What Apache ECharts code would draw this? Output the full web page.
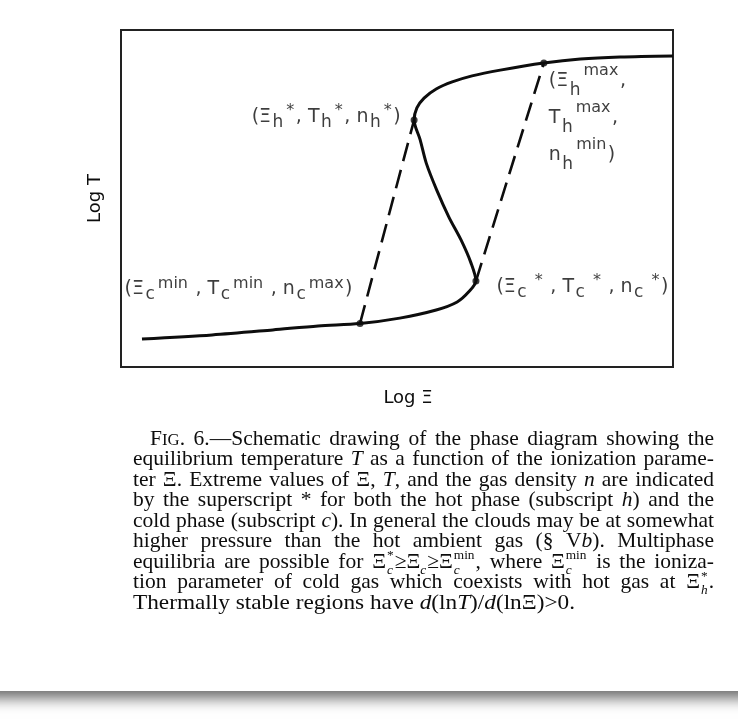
<!DOCTYPE html>
<html><head><meta charset="utf-8">
<script src="https://cdn.jsdelivr.net/npm/echarts@6/dist/echarts.min.js"></script>
<style>html,body{margin:0;padding:0;background:#fff}#c{width:738px;height:723px}</style>
</head><body><div id="c"></div>
<script>
// ---- data (schematic units, both axes 0..100) ----
const curveX = [3.8, 16.5, 27.5, 35.7, 43.3, 50.5, 57.1, 60.9, 63.0, 64.3, 63.4, 61.6, 59.4, 57.2, 55.3, 54.2, 53.1, 53.6, 54.9, 57.1, 60.0, 63.6, 68.7, 76.6, 83.2, 90.4, 100];
const curveY = [8.3, 9.5, 11.0, 12.2, 12.9, 14.5, 16.9, 19.3, 22.3, 25.5, 30.9, 37.7, 44.5, 52.5, 60.5, 67.4, 73.3, 76.9, 79.8, 82.5, 84.6, 86.4, 88.1, 90.2, 91.4, 92.0, 92.3];
const pointX = [43.3, 64.3, 53.1, 76.6];
const pointY = [12.9, 25.5, 73.3, 90.2];
const tieLine1 = [0, 2];
const tieLine2 = [1, 3];
const pointLabels = [
  '{m|(Ξ}{b|c}{p|min}{m| , T}{b|c}{p|min}{m| , n}{b|c}{p|max}{m|)}',
  '{m|(Ξ}{b|c}{p| *}{m| , T}{b|c}{p| *}{m| , n}{b|c}{p| *}{m|)}',
  '{m|(Ξ}{b|h}{p|*}{m|, T}{b|h}{p|*}{m|, n}{b|h}{p|*}{m|)}',
  '{M|(Ξ}{B|h}{P|max}{M|,}\n{M|T}{B|h}{P|max}{M|,}\n{M|n}{B|h}{P|min}{M|)}'
];
const xName = 'Log Ξ';
const yName = 'Log T';
const captionLines = [
  'F[sc:IG]. 6.—Schematic drawing of the phase diagram showing the',
  'equilibrium temperature [i:T] as a function of the ionization parame-',
  'ter Ξ. Extreme values of Ξ, [i:T], and the gas density [i:n] are indicated',
  'by the superscript * for both the hot phase (subscript [i:h]) and the',
  'cold phase (subscript [i:c]). In general the clouds may be at somewhat',
  'higher pressure than the hot ambient gas (§ V[i:b]). Multiphase',
  'equilibria are possible for Ξ[st:*|c]≥Ξ[sub:c]≥Ξ[st:min|c], where Ξ[st:min|c] is the ioniza-',
  'tion parameter of cold gas which coexists with hot gas at Ξ[st:*|h].',
  'Thermally stable regions have [i:d](ln[i:T])/[i:d](lnΞ)>0.'
];

// ---- rendering ----
const INK = '#0d0d0d';
const LF = '"DejaVu Sans", sans-serif';
const CF = '"Liberation Serif", "Times New Roman", serif';
const capSize = 21.5;
const capLeft = 133, capRight = 714, capIndent = 150, capBase0 = 446, capLead = 20.5;
const lastLineRight = 575;

const ctx = document.createElement('canvas').getContext('2d');
function fontStr(kind) {
  const s = capSize;
  switch (kind) {
    case 'i': return {font: `italic ${s}px ${CF}`, size: s, dy: 0};
    case 'sc': return {font: `${(s*0.78).toFixed(2)}px ${CF}`, size: s*0.78, dy: 0};
    case 'sub': return {font: `italic ${(s*0.62).toFixed(2)}px ${CF}`, size: s*0.62, dy: s*0.26};
    case 'sup': return {font: `${(s*0.62).toFixed(2)}px ${CF}`, size: s*0.62, dy: -s*0.40};
    default: return {font: `${s}px ${CF}`, size: s, dy: 0};
  }
}
function measure(text, font) { ctx.font = font; return ctx.measureText(text); }
function midOffset(font, size) {
  ctx.font = font; ctx.textBaseline = 'alphabetic';
  const m = ctx.measureText('Hx');
  if (m.fontBoundingBoxAscent !== undefined) return (m.fontBoundingBoxAscent - m.fontBoundingBoxDescent) / 2;
  return size * 0.34;
}
function parseWord(w) {
  const segs = [];
  const re = /\[(\w+):([^\]]*)\]|([^\[]+)/g;
  let m;
  while ((m = re.exec(w))) {
    if (m[3] !== undefined) segs.push({kind: 'r', text: m[3]});
    else if (m[1] === 'st') { const p = m[2].split('|'); segs.push({kind: 'st', sup: p[0], sub: p[1]}); }
    else segs.push({kind: m[1], text: m[2]});
  }
  return segs;
}
function layoutWord(w) {
  const segs = parseWord(w);
  let x = 0; const items = [];
  segs.forEach(sg => {
    if (sg.kind === 'st') {
      const fp = fontStr('sup'), fb = fontStr('sub');
      const wp = measure(sg.sup, fp.font).width, wb = measure(sg.sub, fb.font).width;
      items.push({text: sg.sup, f: fp, x: x + 1});
      items.push({text: sg.sub, f: fb, x: x + 1});
      x += Math.max(wp, wb) + 2;
    } else {
      const f = fontStr(sg.kind);
      items.push({text: sg.text, f, x});
      x += measure(sg.text, f.font).width + (sg.kind === 'sub' ? 1 : 0);
    }
  });
  return {items, width: x};
}
const captionGraphics = [];
captionLines.forEach((line, li) => {
  const words = line.split(' ').map(layoutWord);
  const isLast = li === captionLines.length - 1;
  const left = li === 0 ? capIndent : capLeft;
  const total = words.reduce((a, w) => a + w.width, 0);
  const spaceW = measure(' ', fontStr('r').font).width;
  let gap, sx = 1;
  if (isLast) {
    gap = spaceW;
    const natural = total + spaceW * (words.length - 1);
    sx = (lastLineRight - left) / natural;
  } else {
    gap = words.length > 1 ? (capRight - left - total) / (words.length - 1) : 0;
  }
  const base = capBase0 + li * capLead;
  let x = 0;
  words.forEach(w => {
    w.items.forEach(it => {
      const off = midOffset(it.f.font, it.f.size);
      const px = left + (x + it.x) * sx;
      captionGraphics.push({
        type: 'text', z: 10, silent: true, scaleX: sx, originX: px, originY: 0,
        style: {text: it.text, x: px, y: base + it.f.dy - off, font: it.f.font, fill: INK,
                textAlign: 'left', textVerticalAlign: 'middle'}
      });
    });
    x += w.width + gap;
  });
});

const chart = echarts.init(document.getElementById('c'), null, {renderer: 'canvas'});
const pts = pointX.map((x, i) => [x, pointY[i]]);
const labelCfg = [
  {show: true, position: 'left', distance: 4, offset: [0, -34]},
  {show: true, position: 'right', distance: 17, offset: [0, 6]},
  {show: true, position: 'left', distance: 10, offset: [0, -3]},
  {show: true, position: [8.5, 3], align: 'left', verticalAlign: 'top'}
];
const pad = [0, 1.5, 0, 1.5];
const rich = {
  m: {fontFamily: LF, fontSize: 19, color: INK, lineHeight: 28},
  b: {fontFamily: LF, fontSize: 17, color: INK, lineHeight: 6, verticalAlign: 'bottom', padding: pad},
  p: {fontFamily: LF, fontSize: 16, color: INK, lineHeight: 16, verticalAlign: 'top', padding: pad},
  M: {fontFamily: LF, fontSize: 19, color: INK, lineHeight: 37},
  B: {fontFamily: LF, fontSize: 17, color: INK, lineHeight: 15, verticalAlign: 'bottom', padding: pad},
  P: {fontFamily: LF, fontSize: 16, color: INK, lineHeight: 25, verticalAlign: 'top', padding: pad}
};

chart.setOption({
  animation: false,
  backgroundColor: '#fff',
  grid: {left: 121, right: 65, top: 30, bottom: 356, show: true, borderColor: '#222', borderWidth: 2, backgroundColor: 'transparent'},
  xAxis: {type: 'value', min: 0, max: 100, name: xName, nameLocation: 'middle', nameGap: 22,
    nameTextStyle: {fontFamily: LF, fontSize: 18, color: INK, padding: [0, 0, 0, 22]},
    axisLine: {show: false}, axisTick: {show: false}, axisLabel: {show: false}, splitLine: {show: false}},
  yAxis: {type: 'value', min: 0, max: 100, name: yName, nameLocation: 'middle', nameGap: 17,
    nameTextStyle: {fontFamily: LF, fontSize: 18, color: INK},
    axisLine: {show: false}, axisTick: {show: false}, axisLabel: {show: false}, splitLine: {show: false}},
  graphic: [
    {type: 'rect', z: -100, silent: true, shape: {x: -30, y: -30, width: 798, height: 721},
     style: {fill: '#fff', shadowBlur: 14, shadowOffsetY: 7, shadowColor: 'rgba(0,0,0,0.6)'}},
    ...captionGraphics
  ],
  series: [
    {type: 'line', data: curveX.map((x, i) => [x, curveY[i]]), showSymbol: false, smooth: 0.3,
     lineStyle: {color: INK, width: 3}, z: 3},
    {type: 'line', data: tieLine1.map(i => pts[i]), showSymbol: false,
     lineStyle: {color: INK, width: 2.6, type: [19, 9]}, z: 3},
    {type: 'line', data: tieLine2.map(i => pts[i]), showSymbol: false,
     lineStyle: {color: INK, width: 2.6, type: [19, 9]}, z: 3},
    {type: 'scatter', symbolSize: 7, itemStyle: {color: INK}, z: 4,
     data: pts.map((p, i) => ({value: p, label: Object.assign({formatter: pointLabels[i], rich}, labelCfg[i])}))}
  ]
});
</script></body></html>
